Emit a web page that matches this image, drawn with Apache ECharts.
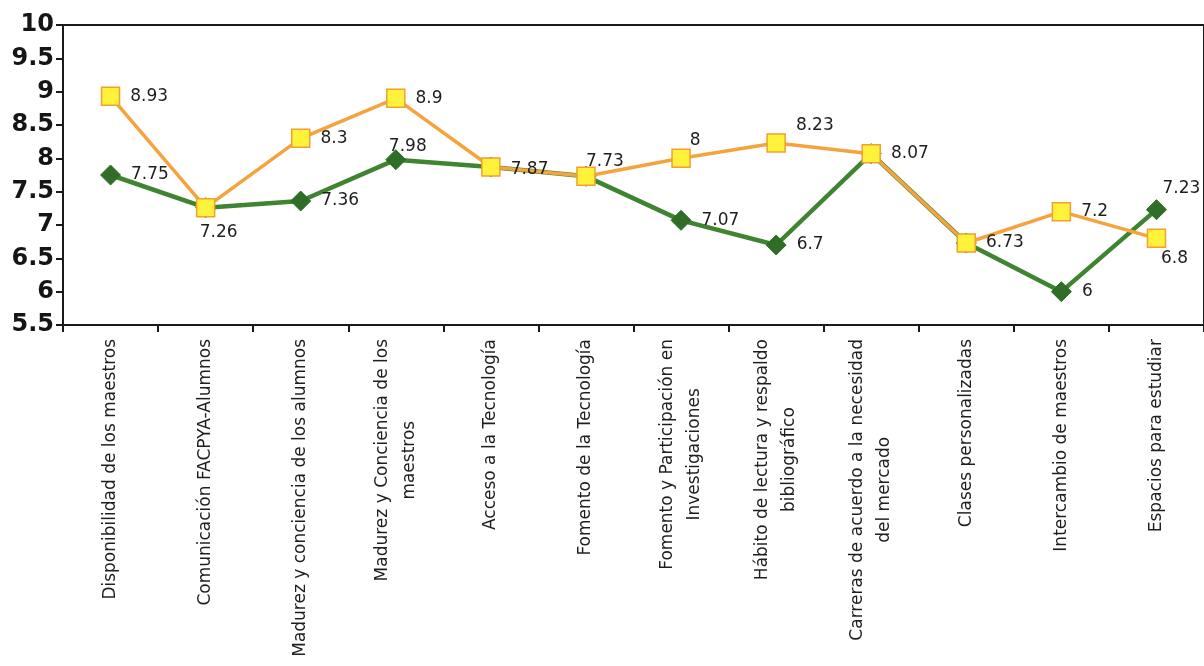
<!DOCTYPE html>
<html>
<head>
<meta charset="utf-8">
<script src="https://cdn.jsdelivr.net/npm/echarts@6/dist/echarts.min.js"></script>
<style>
html,body{margin:0;padding:0;background:#fff;}
#chart{width:1204px;height:666px;}
</style>
</head>
<body>
<div id="chart"></div>
<script>
// ---- data ----
var categories = [
  "Disponibilidad de los maestros",
  "Comunicación FACPYA-Alumnos",
  "Madurez y conciencia de los alumnos",
  "Madurez y Conciencia de los\nmaestros",
  "Acceso a la Tecnología",
  "Fomento de la Tecnología",
  "Fomento y Participación en\nInvestigaciones",
  "Hábito de lectura y respaldo\nbibliográfico",
  "Carreras de acuerdo a la necesidad\ndel mercado",
  "Clases personalizadas",
  "Intercambio de maestros",
  "Espacios para estudiar"
];
var greenValues  = [7.75, 7.26, 7.36, 7.98, 7.87, 7.73, 7.07, 6.7, 8.07, 6.73, 6, 7.23];
var orangeValues = [8.93, 7.26, 8.3, 8.9, 7.87, 7.73, 8, 8.23, 8.07, 6.73, 7.2, 6.8];
var yTicks = { min: 5.5, max: 10, interval: 0.5 };

// ---- label styling (positions of value labels, not data) ----
var greenLabelStyle = [
  {position:'right'}, {show:false}, {position:'right'}, {position:'top', offset:[12,16]},
  {show:false}, {show:false}, {position:'right'}, {position:'right'},
  {show:false}, {show:false}, {position:'right'}, {position:'top', offset:[25,8]}
];
var orangeLabelStyle = [
  {position:'right'}, {position:'bottom', offset:[13,-3]}, {position:'right'}, {position:'right'},
  {position:'right', offset:[0,3]}, {position:'top', offset:[19,13]}, {position:'top', offset:[14,10]}, {position:'right', offset:[0,-17]},
  {position:'right'}, {position:'right'}, {position:'right'}, {position:'bottom', offset:[18,-8]}
];

var FONT = 'DejaVu Sans';
var labelBase = { show:true, fontFamily:FONT, fontSize:17, color:'#1e1e1e', distance:10 };

function buildData(vals, styles) {
  return vals.map(function (v, i) {
    return { value: v, label: Object.assign({}, styles[i]) };
  });
}

var chart = echarts.init(document.getElementById('chart'));
chart.setOption({
  animation: false,
  backgroundColor: '#ffffff',
  grid: { left: 63, top: 25, width: 1147, height: 300, show: true, borderColor: '#1a1a1a', borderWidth: 2 },
  xAxis: {
    type: 'category',
    data: categories,
    boundaryGap: true,
    axisLine: { lineStyle: { color: '#1a1a1a', width: 2 } },
    axisTick: { show: true, length: 7, inside: false, alignWithLabel: false, lineStyle: { color: '#1a1a1a', width: 2 } },
    axisLabel: {
      interval: 0,
      rotate: 90,
      margin: 14,
      formatter: function (v) {
        return v.split('\n').map(function (l) { return '{c|' + l + '}'; }).join('\n');
      },
      rich: { c: { align: 'center', fontFamily: FONT, fontSize: 17, lineHeight: 27, color: '#1e1e1e' } }
    },
    splitLine: { show: false }
  },
  yAxis: {
    type: 'value',
    min: yTicks.min,
    max: yTicks.max,
    interval: yTicks.interval,
    axisLine: { show: true, lineStyle: { color: '#1a1a1a', width: 2 } },
    axisTick: { show: true, length: 7, lineStyle: { color: '#1a1a1a', width: 2 } },
    axisLabel: { fontFamily: FONT, fontWeight: 'bold', fontSize: 24, color: '#151515', margin: 9 },
    splitLine: { show: false }
  },
  series: [
    {
      type: 'line',
      data: buildData(greenValues, greenLabelStyle),
      symbol: 'diamond',
      symbolSize: 20,
      lineStyle: { color: '#3f8430', width: 4.5 },
      itemStyle: { color: '#2f6e27', borderColor: '#2f6e27', borderWidth: 1 },
      label: labelBase,
      z: 2
    },
    {
      type: 'line',
      data: buildData(orangeValues, orangeLabelStyle),
      symbol: 'rect',
      symbolSize: 18,
      lineStyle: { color: '#f5a33c', width: 3.5 },
      itemStyle: { color: '#fff23a', borderColor: '#f0a030', borderWidth: 1.5 },
      label: labelBase,
      z: 3
    }
  ]
});
</script>
</body>
</html>
